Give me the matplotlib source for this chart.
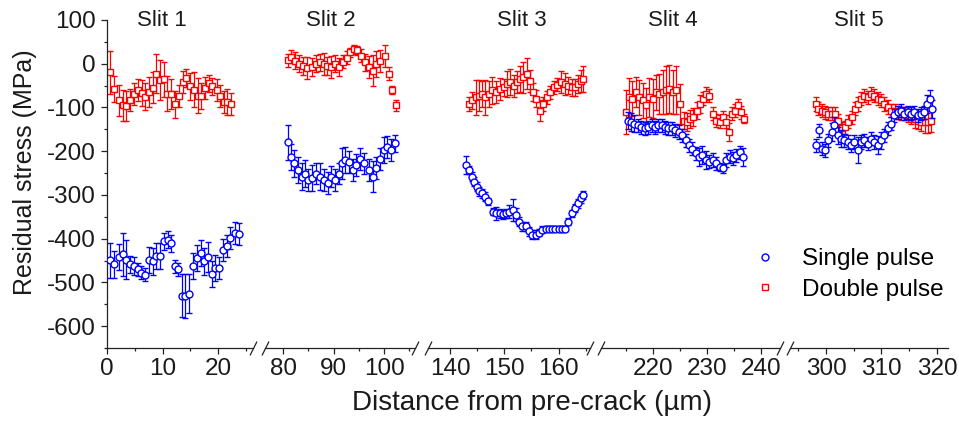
import matplotlib
matplotlib.use("Agg")
import matplotlib.pyplot as plt
from matplotlib.lines import Line2D
from matplotlib.ticker import MultipleLocator

plt.rcParams['font.family'] = ['Liberation Sans', 'DejaVu Sans']
plt.rcParams['axes.unicode_minus'] = False

# ---- data (distance in um, stress in MPa) ----
# Slit 1
x1_s = [0.55, 1.3, 2.1, 2.8, 3.5, 4.2, 4.9, 5.6, 6.2, 6.8, 7.5, 8.2, 8.9, 9.5, 10.2, 10.9, 11.6, 12.2,
        12.8, 13.5, 14.1, 14.8, 15.5, 16.2, 16.9, 17.5, 18.2, 18.9, 19.5, 20.2, 20.9, 21.6, 22.2, 23.0, 23.8]
y1_s = [-449, -459, -442, -436, -448, -459, -463, -470, -478, -482, -448, -452, -440, -440, -406, -402, -411, -463,
        -470, -530, -531, -526, -463, -444, -432, -452, -442, -480, -467, -467, -425, -416, -399, -387, -389]
e1_s = [40, 30, 30, 50, 45, 20, 20, 15, 15, 15, 30, 30, 30, 30, 20, 20, 20, 15,
        15, 50, 50, 45, 30, 30, 30, 30, 35, 30, 30, 25, 25, 25, 25, 25, 25]
x1_d = [0.55, 1.3, 2.1, 2.8, 3.5, 4.1, 4.9, 5.6, 6.3, 6.9, 7.5, 8.2, 8.8, 9.5, 10.2, 10.8, 11.6,
        12.2, 13.0, 13.7, 14.3, 15.0, 15.7, 16.4, 17.0, 17.7, 18.4, 19.0, 19.8, 20.4, 21.0, 21.7, 22.3]
y1_d = [-20, -58, -84, -95, -97, -83, -69, -61, -67, -75, -65, -55, -23, -37, -35, -69, -69,
        -93, -73, -42, -33, -52, -59, -73, -73, -55, -45, -52, -61, -74, -88, -88, -93]
e1_d = [50, 30, 35, 35, 35, 25, 25, 25, 30, 30, 35, 35, 45, 45, 40, 40, 35,
        30, 25, 25, 20, 30, 40, 40, 30, 25, 20, 20, 25, 25, 25, 30, 25]

# Slit 2
x2_s = [81.0, 81.5, 82.2, 83.0, 83.7, 84.4, 85.0, 85.7, 86.5, 87.2, 88.0, 88.8, 89.5, 90.3, 91.0,
        91.6, 92.3, 93.1, 93.8, 94.5, 95.2, 96.1, 96.9, 97.7, 98.4, 99.1, 99.9, 100.5, 101.3, 102.2]
y2_s = [-179, -213, -228, -243, -258, -251, -266, -262, -251, -258, -266, -273, -258, -266, -251,
        -228, -220, -224, -243, -232, -217, -228, -243, -258, -239, -217, -198, -190, -198, -182]
e2_s = [40, 30, 30, 30, 30, 30, 25, 30, 25, 30, 25, 25, 25, 25, 25,
        35, 30, 25, 25, 25, 25, 25, 25, 35, 25, 25, 30, 25, 25, 20]
x2_d = [80.9, 81.5, 82.4, 83.2, 84.0, 84.8, 85.7, 86.5, 87.3, 88.0, 88.7, 89.5, 90.3, 91.1, 91.8,
        92.6, 93.3, 94.1, 94.7, 95.4, 96.2, 97.0, 97.7, 98.4, 99.2, 100.2, 100.9, 101.6, 102.3]
y2_d = [8, 16, 7, 0, -5, -10, -7, 0, 3, 0, -5, -8, 0, -7, 5,
        14, 26, 33, 31, 18, 3, -8, -16, -1, 7, 18, -23, -60, -95]
e2_d = [15, 15, 20, 20, 20, 25, 20, 20, 20, 25, 20, 25, 20, 20, 15,
        15, 10, 10, 10, 15, 20, 25, 35, 30, 25, 25, 15, 10, 12]

# Slit 3
x3_s = [143.0, 143.5, 144.0, 144.4, 144.9, 145.3, 145.9, 146.5, 147.0, 147.9, 148.5, 149.1, 149.7,
        150.3, 150.9, 151.5, 152.1, 152.7, 153.3, 153.9, 154.5, 155.1, 155.8, 156.4, 157.0, 157.6,
        158.2, 158.8, 159.4, 160.0, 160.6, 161.2, 161.8, 162.4, 163.0, 163.6, 164.1, 164.5]
y3_s = [-232, -243, -258, -270, -281, -292, -296, -304, -315, -338, -342, -342, -344,
        -342, -338, -334, -345, -361, -372, -372, -383, -391, -391, -386, -380, -377,
        -377, -377, -377, -377, -377, -377, -361, -342, -330, -319, -308, -300]
e3_s = [20, 10, 10, 10, 10, 10, 10, 10, 8, 8, 15, 10, 10,
        10, 15, 25, 15, 10, 10, 10, 10, 10, 10, 8, 8, 5,
        5, 5, 5, 5, 5, 5, 8, 8, 10, 10, 10, 10]
x3_d = [143.4, 144.0, 144.7, 145.3, 145.9, 146.5, 147.1, 147.8, 148.5, 149.1, 149.9, 150.5,
        151.1, 151.7, 152.3, 152.9, 153.5, 154.1, 154.7, 155.3, 155.9, 156.5, 157.2, 157.9,
        158.5, 159.1, 159.8, 160.5, 161.2, 161.8, 162.4, 163.0, 163.6, 164.1, 164.6]
y3_d = [-92, -84, -77, -73, -69, -77, -69, -61, -65, -58, -54, -46,
        -42, -50, -42, -35, -31, -23, -39, -65, -80, -107, -92, -77,
        -65, -54, -48, -42, -46, -50, -54, -54, -46, -39, -35]
e3_d = [15, 20, 40, 35, 30, 40, 30, 30, 25, 25, 20, 30,
        30, 25, 25, 30, 35, 35, 25, 20, 20, 25, 15, 15,
        15, 15, 15, 25, 25, 20, 20, 20, 20, 25, 30]

# Slit 4
x4_s = [215.3, 215.9, 216.5, 217.2, 217.8, 218.4, 219.1, 219.7, 220.3, 220.9, 221.6, 222.2,
        222.8, 223.5, 224.1, 224.7, 225.3, 226.0, 226.6, 227.2, 227.9, 228.5, 229.1, 229.8,
        230.4, 231.0, 231.6, 232.3, 232.9, 233.5, 234.2, 234.8, 235.4, 236.0, 236.7]
y4_s = [-130, -133, -137, -141, -145, -148, -145, -141, -145, -141, -141, -145,
        -148, -148, -152, -156, -164, -175, -186, -194, -205, -213, -209, -220,
        -224, -220, -228, -236, -239, -220, -213, -216, -209, -202, -213]
e4_s = [20, 20, 20, 15, 15, 15, 15, 15, 15, 15, 15, 15,
        15, 15, 15, 15, 15, 15, 15, 15, 15, 20, 20, 20,
        15, 15, 15, 10, 10, 15, 15, 15, 15, 15, 20]
x4_d = [215.0, 215.5, 216.1, 216.7, 217.4, 218.0, 218.6, 219.2, 219.9, 220.5, 221.1, 221.8, 222.4,
        223.0, 223.6, 224.3, 225.0, 225.7, 226.3, 226.8, 227.4, 228.1, 228.7, 229.3, 229.8,
        230.4, 231.0, 231.6, 232.3, 232.9, 233.5, 234.0, 234.6, 235.1, 235.7, 236.3, 236.9]
y4_d = [-111, -77, -80, -65, -77, -84, -95, -77, -80, -65, -69, -65, -61,
        -58, -65, -61, -92, -130, -133, -126, -122, -107, -92, -80, -69,
        -73, -114, -130, -133, -122, -133, -156, -114, -107, -95, -111, -126]
e4_d = [50, 45, 40, 35, 40, 40, 40, 45, 45, 40, 45, 50, 55,
        55, 50, 55, 45, 20, 20, 20, 20, 20, 20, 15, 15,
        15, 15, 15, 15, 15, 15, 20, 15, 15, 15, 15, 10]

# Slit 5
x5_s = [298.1, 298.7, 299.3, 299.9, 300.4, 301.0, 301.5, 302.1, 302.7, 303.3, 303.9, 304.5, 305.1,
        305.7, 306.3, 306.9, 307.5, 308.1, 308.7, 309.3, 309.9, 310.5, 311.1, 311.7, 312.3,
        312.9, 313.5, 314.1, 314.7, 315.3, 315.9, 316.5, 317.1, 317.7, 318.3, 318.7, 319.2]
y5_s = [-186, -152, -194, -198, -175, -156, -141, -164, -171, -175, -179, -186, -179,
        -198, -179, -175, -183, -171, -179, -186, -175, -164, -148, -137, -118,
        -111, -107, -114, -111, -114, -111, -118, -114, -111, -92, -80, -103]
e5_s = [15, 15, 15, 15, 15, 20, 20, 20, 20, 15, 15, 15, 15,
        30, 15, 15, 15, 15, 15, 20, 20, 15, 15, 15, 15,
        15, 15, 15, 15, 15, 15, 15, 15, 15, 20, 20, 20]
x5_d = [298.1, 298.6, 299.2, 299.8, 300.4, 301.0, 301.6, 302.2, 302.8, 303.4, 304.0, 304.6,
        305.2, 305.8, 306.3, 306.9, 307.5, 308.1, 308.7, 309.3, 309.9, 310.5, 311.1, 311.8,
        312.4, 313.0, 313.6, 314.2, 314.8, 315.4, 316.0, 316.6, 317.2, 317.8, 318.4, 319.0]
y5_d = [-92, -103, -107, -111, -114, -114, -114, -130, -148, -145, -133, -122,
        -103, -92, -80, -73, -77, -69, -73, -80, -84, -92, -99, -107,
        -107, -111, -114, -114, -118, -122, -126, -130, -133, -133, -133, -130]
e5_d = [15, 15, 15, 15, 15, 15, 15, 15, 15, 15, 15, 15,
        15, 15, 15, 15, 15, 15, 15, 15, 15, 15, 15, 15,
        15, 15, 15, 15, 15, 15, 20, 20, 20, 25, 25, 25]

slit_names = ["Slit 1", "Slit 2", "Slit 3", "Slit 4", "Slit 5"]
xlims = [(0, 26.3), (76.4, 106.1), (135.9, 165.8), (210.3, 243.5), (293.5, 322.0)]
title_x = [9.9, 89.5, 153.3, 223.7, 306.0]

single = [(x1_s, y1_s, e1_s), (x2_s, y2_s, e2_s), (x3_s, y3_s, e3_s), (x4_s, y4_s, e4_s), (x5_s, y5_s, e5_s)]
double = [(x1_d, y1_d, e1_d), (x2_d, y2_d, e2_d), (x3_d, y3_d, e3_d), (x4_d, y4_d, e4_d), (x5_d, y5_d, e5_d)]

BLUE = '#0000ff'
RED = '#ff0000'
INK = '#1a1a1a'

W, H = 959, 421
fig = plt.figure(figsize=(W / 100, H / 100), dpi=100)

# panel extents in pixels (left, right); y from 20 to 348
px_l = [107, 265, 428, 601, 790]
px_r = [253, 415, 590, 780, 948]
bot, top = 1 - 348 / H, 1 - 20 / H

axes = []
for i in range(5):
    ax = fig.add_axes([px_l[i] / W, bot, (px_r[i] - px_l[i]) / W, top - bot])
    axes.append(ax)

    xd, yd, ed = double[i]
    ax.errorbar(xd, yd, yerr=ed, fmt='s', ms=4.5, mfc='white', mec=RED, mew=1.0,
                ecolor=RED, elinewidth=0.9, capsize=2.5, capthick=0.9, zorder=2)
    xs, ys, es = single[i]
    ax.errorbar(xs, ys, yerr=es, fmt='o', ms=5, mfc='white', mec=BLUE, mew=1.0,
                ecolor=BLUE, elinewidth=0.9, capsize=2.5, capthick=0.9, zorder=3)

    ax.set_xlim(*xlims[i])
    ax.set_ylim(-650, 100)
    ax.xaxis.set_major_locator(MultipleLocator(10))
    ax.xaxis.set_minor_locator(MultipleLocator(5))
    for s in ['top', 'right', 'left']:
        ax.spines[s].set_visible(False)
    ax.spines['bottom'].set_linewidth(0.9)
    ax.spines['bottom'].set_color('#222222')
    ax.tick_params(axis='x', which='major', direction='out', length=4, width=0.9,
                   labelsize=17.5, pad=3, colors='#222222', labelcolor=INK)
    ax.tick_params(axis='x', which='minor', direction='out', length=2.5, width=0.9, colors='#222222')
    if i == 0:
        ax.spines['left'].set_visible(True)
        ax.spines['left'].set_linewidth(0.9)
        ax.spines['left'].set_color('#222222')
        ax.yaxis.set_major_locator(MultipleLocator(100))
        ax.yaxis.set_minor_locator(MultipleLocator(50))
        ax.tick_params(axis='y', which='major', direction='out', length=4, width=0.9,
                       labelsize=17.5, pad=4, colors='#222222', labelcolor=INK)
        ax.tick_params(axis='y', which='minor', direction='out', length=2.5, width=0.9, colors='#222222')
        ax.set_ylabel("Residual stress (MPa)", fontsize=18, color=INK)
        ax.yaxis.set_label_coords(-0.48, 0.537)
    else:
        ax.tick_params(axis='y', which='both', left=False, labelleft=False)

    ax.text(title_x[i], 1.0, slit_names[i], transform=ax.get_xaxis_transform(),
            ha='center', va='center', fontsize=16, color=INK)

    # break marks "//"
    brk = dict(marker=[(-1, -2), (1, 2)], markersize=10, mew=0.9, color='#222222',
               transform=ax.transAxes, clip_on=False, linestyle='none')
    if i < 4:
        ax.plot([1], [0], **brk)
    if i > 0:
        ax.plot([0], [0], **brk)

fig.text(532 / W, 1 - 403 / H, "Distance from pre-crack (\u00b5m)", ha='center', va='center',
         fontsize=20, color=INK)

handles = [Line2D([], [], ls='none', marker='o', ms=5, mfc='white', mec=BLUE, mew=1.0),
           Line2D([], [], ls='none', marker='s', ms=4.5, mfc='white', mec=RED, mew=1.0)]
fig.legend(handles, ["Single pulse", "Double pulse"], loc='upper left',
           bbox_to_anchor=(753 / W, 1 - 248 / H), frameon=False, fontsize=17.5,
           handlelength=1.0, handletextpad=1.0, labelspacing=0.35, borderpad=0, borderaxespad=0)

fig.savefig("out.png", dpi=100)
